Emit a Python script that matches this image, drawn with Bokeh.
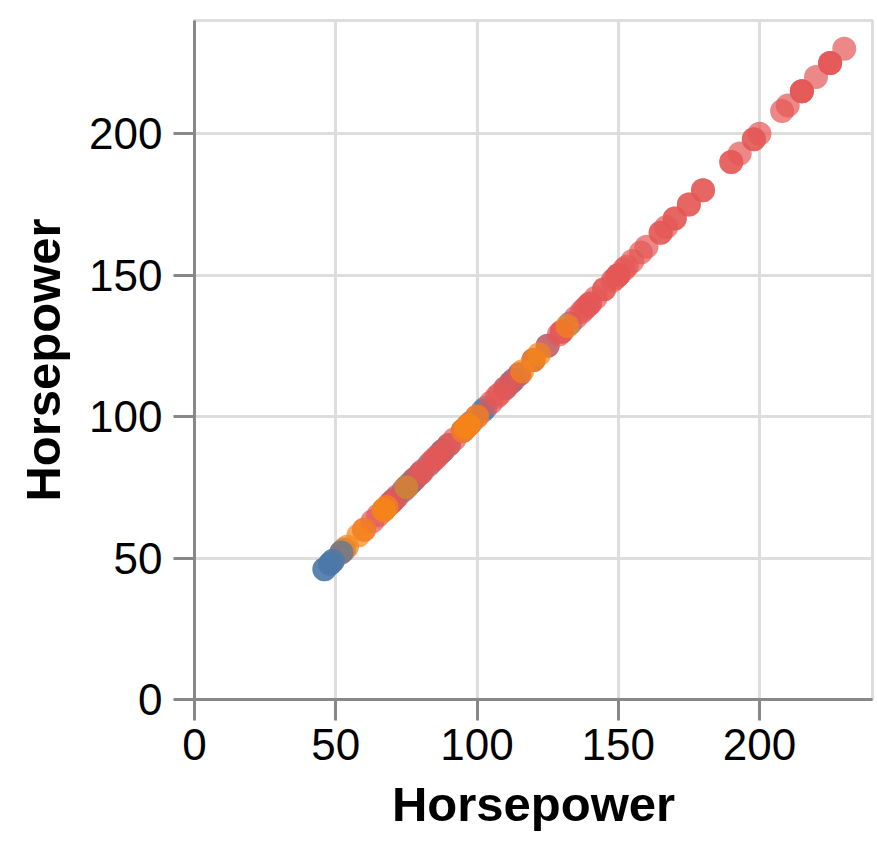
from bokeh.plotting import figure
from bokeh.models import ColumnDataSource, Range1d, FixedTicker
from bokeh.transform import factor_cmap
from bokeh.embed import file_html
from bokeh.resources import INLINE

# Data (draw order)
europe_under = [48, 49, 53, 67, 70, 71, 74, 76, 77, 78, 80, 83, 87, 88, 90, 95, 98,
                102, 103, 110, 112, 113, 115, 120, 125, 133]
usa = [52, 60, 63, 65, 69, 70, 72, 75, 78, 80, 81, 84, 85, 86, 88, 90, 92, 95, 97,
       100, 105, 107, 108, 110, 112, 115, 120, 125, 129, 130, 130, 135, 137, 138,
       139, 140, 140, 142, 145, 145, 148, 149, 150, 150, 150, 152, 153, 155, 158,
       160, 165, 165, 167, 170, 170, 175, 175, 180, 180, 190, 190, 193, 198, 198,
       200, 208, 210, 215, 215, 215, 220, 225, 225, 225, 230]
europe_mid = [75]
japan = [52, 54, 58, 60, 67, 67, 68, 75, 95, 96, 97, 97, 100, 116, 120, 122, 132]
europe_top = [52, 46, 46, 48, 49]

origins = ["Europe", "Japan", "USA"]
colors = ["#4c78a8", "#f58518", "#e45756"]
tick_values = [0, 50, 100, 150, 200]

horsepower = europe_under + usa + europe_mid + japan + europe_top
origin = (["Europe"] * len(europe_under) + ["USA"] * len(usa) + ["Europe"] * len(europe_mid)
          + ["Japan"] * len(japan) + ["Europe"] * len(europe_top))

src = ColumnDataSource(dict(x=horsepower, y=horsepower, origin=origin))

p = figure(width=877, height=844, output_backend="svg", toolbar_location=None,
           x_range=Range1d(0, 240), y_range=Range1d(0, 240),
           min_border_left=194, min_border_right=5, min_border_top=20, min_border_bottom=145)

p.scatter("x", "y", source=src, size=24, fill_alpha=0.7, line_color=None,
          fill_color=factor_cmap("origin", palette=colors, factors=origins))

p.outline_line_color = "#dddddd"
p.outline_line_width = 3

for ax in (p.xaxis[0], p.yaxis[0]):
    ax.ticker = FixedTicker(ticks=tick_values)
    ax.axis_label = "Horsepower"
    ax.axis_label_text_font = "Liberation Sans"
    ax.axis_label_text_font_style = "bold"
    ax.axis_label_text_font_size = "49px"
    ax.axis_label_text_color = "#000000"
    ax.major_label_text_font = "Liberation Sans"
    ax.major_label_text_font_size = "44px"
    ax.major_label_text_color = "#000000"
    ax.axis_line_color = "#888888"
    ax.axis_line_width = 3
    ax.major_tick_line_color = "#888888"
    ax.major_tick_line_width = 3
    ax.major_tick_out = 21
    ax.major_tick_in = 0
    ax.minor_tick_line_color = None

p.yaxis[0].major_label_standoff = 11
p.xaxis[0].major_label_standoff = 8
p.yaxis[0].axis_label_standoff = 16
p.xaxis[0].axis_label_standoff = 14

for g in (p.xgrid[0], p.ygrid[0]):
    g.ticker = FixedTicker(ticks=tick_values)
    g.grid_line_color = "#dddddd"
    g.grid_line_width = 3

open("out.html", "w").write(file_html(p, INLINE))
